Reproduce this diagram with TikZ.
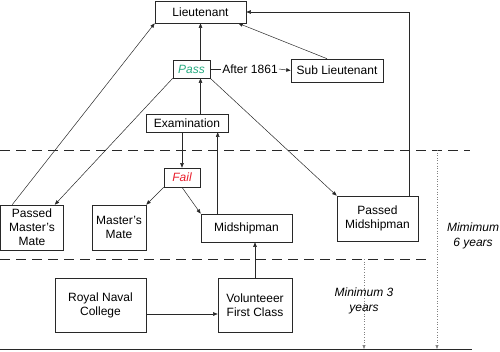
\documentclass[tikz,border=0pt]{standalone}
\usepackage{fontspec}
\setmainfont{Liberation Sans}
\usepackage{tikz}
\usetikzlibrary{arrows.meta,positioning,calc}
\definecolor{passgreen}{RGB}{38,170,128}
\definecolor{failred}{RGB}{232,30,44}
\definecolor{linegray}{RGB}{40,40,40}
\tikzset{
  rank/.style={draw=linegray, line width=0.6pt, font=\fontsize{12}{14}\selectfont, align=center, inner sep=1pt},
  res/.style={rank, font=\fontsize{12}{14}\selectfont\itshape},
  lbl/.style={font=\fontsize{12}{14}\selectfont, inner sep=1pt},
  note/.style={font=\fontsize{12}{14.5}\selectfont\itshape, align=center},
  ar/.style={draw=linegray, line width=0.5pt, -{Triangle[length=4.5pt,width=3.5pt]}},
  ln/.style={draw=linegray, line width=0.5pt},
  sep/.style={draw=linegray, line width=0.6pt, dash pattern=on 10pt off 6pt},
  span/.style={draw=gray, line width=0.6pt, dotted, -{Triangle[length=4pt,width=3pt]}}
}
\begin{document}
\begin{tikzpicture}[x=1pt, y=-1pt]
\useasboundingbox (0,0) rectangle (500,351);
% ranks
\node[rank, minimum width=91pt, minimum height=22pt] (lt) at (200.5,12) {Lieutenant};
\node[res, text=passgreen, minimum width=37pt, minimum height=18pt] (pass) at (191.5,69) {Pass};
\node[lbl] (after) at (250,69) {After 1861};
\node[rank, minimum width=92pt, minimum height=23pt] (sub) at (337,70.5) {Sub Lieutenant};
\node[rank, minimum width=82pt, minimum height=18pt] (exam) at (187,123) {Examination};
\node[res, text=failred, minimum width=36pt, minimum height=19pt] (fail) at (182,177.5) {Fail};
\node[rank, minimum width=63pt, minimum height=45pt] (pmm) at (32,227.5) {Passed\\Master’s\\Mate};
\node[rank, minimum width=54pt, minimum height=45pt] (mm) at (119,227.5) {Master’s\\Mate};
\node[rank, minimum width=91pt, minimum height=28pt] (mid) at (246.5,228) {Midshipman};
\node[rank, minimum width=81pt, minimum height=45pt] (pmid) at (377.5,218.5) {Passed\\Midshipman};
\node[rank, minimum width=91pt, minimum height=54pt] (rnc) at (100.5,305) {Royal Naval\\College};
\node[rank, minimum width=74pt, minimum height=54pt] (vfc) at (255,305) {Volunteeer\\First Class};
% time spans
\coordinate (s1a) at (0,150);
\coordinate (s1b) at (470,150);
\coordinate (s2a) at (0,259);
\coordinate (s2b) at (430,259);
\coordinate (b1) at (0,349);
\coordinate (b2) at (472,349);
\draw[sep] (s1a) -- (s1b);
\draw[sep] (s2a) -- (s2b);
\draw[ln, line width=0.6pt] (b1) -- (b2);
\coordinate (t6) at (437,150);
\coordinate (t3) at (364,259);
\draw[span] (t6) -- (t6 |- b1);
\draw[span] (t3) -- (t3 |- b1);
\node[note] (n3) at (364,301) {Minimum 3\\years};
\node[note] (n6) at (473,236) {Mimimum\\6 years};
% promotions
\coordinate (m1) at ([xshift=17pt]mid.north west);
\coordinate (r1) at ([yshift=-9pt]rnc.east);
\coordinate (p1) at ([xshift=-9pt]pmid.north east);
\draw[ar] (rnc.east |- r1) -- (vfc.west |- r1);
\draw[ar] (vfc.north) -- (vfc.north |- mid.south);
\draw[ar] (m1) -- (m1 |- exam.south);
\draw[ar] (exam.south -| fail.north) -- (fail.north);
\draw[ar] (fail.south west) -- (mm.north east);
\draw[ar] (fail.south) -- (mid.north west);
\draw[ar] (exam.north -| lt.south) -- (pass.south -| lt.south);
\draw[ar] (pass.north -| lt.south) -- (lt.south);
\draw[ar] (pass.south west) -- ([xshift=-9pt]pmm.north east);
\draw[ar] (pass.south east) -- (pmid.north west);
\draw[ar] ([xshift=12pt]pmm.north west) -- (lt.south west);
\draw[ln] (pass.east) -- (after.west);
\draw[ar] (after.east) -- (sub.west);
\draw[ar] ([xshift=-10pt]sub.north) -- ([xshift=-8pt]lt.south east);
\draw[ar] (p1) |- (lt.east);
\end{tikzpicture}
\end{document}
